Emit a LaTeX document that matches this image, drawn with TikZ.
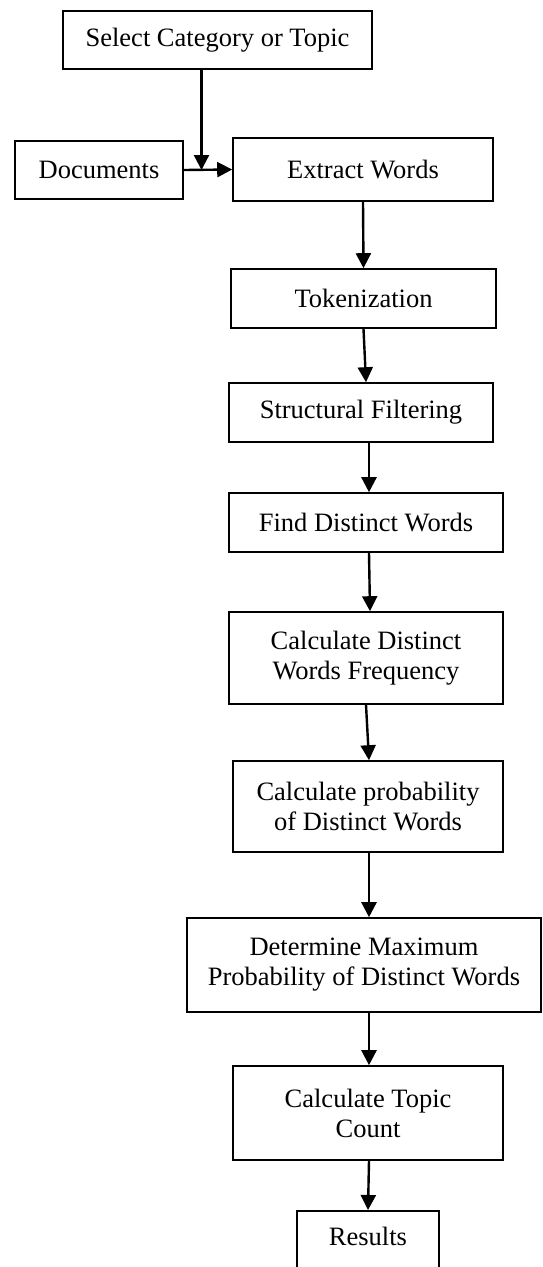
\documentclass[tikz,border=0pt]{standalone}
\usepackage{fontspec}
\setmainfont{Liberation Serif}
\usetikzlibrary{arrows.meta}
\begin{document}
\begin{tikzpicture}[x=1pt,y=-1pt,
  box/.style={draw, line width=1.6pt, inner sep=0pt, align=center,
    font=\fontsize{26.5}{30}\selectfont},
  arr/.style={line width=2.4pt, -{Triangle[length=15pt,width=15pt]}}]
\useasboundingbox (0,0) rectangle (543,1267);
\clip (0,0) rectangle (543,1267);
\node[box, minimum width=309pt, minimum height=58pt] (sel) at (217.5,40) {Select Category or Topic};
\node[box, minimum width=168pt, minimum height=58pt] (doc) at (99,170) {Documents};
\node[box, minimum width=260pt, minimum height=63pt] (ext) at (363,169.5) {Extract Words};
\node[box, minimum width=265pt, minimum height=59pt] (tok) at (363.5,298.5) {Tokenization};
\node[box, minimum width=264pt, minimum height=59pt] (str) at (361,412.5) {Structural Filtering};
\node[box, minimum width=274pt, minimum height=59pt] (fnd) at (366,522.5) {Find Distinct Words};
\node[box, minimum width=274pt, minimum height=92pt] (frq) at (366,658) {Calculate Distinct\\Words Frequency};
\node[box, minimum width=270pt, minimum height=91pt] (prb) at (368,806.5) {Calculate probability\\of Distinct Words};
\node[box, minimum width=354pt, minimum height=94pt] (det) at (364,965) {Determine Maximum\\Probability of Distinct Words};
\node[box, minimum width=270pt, minimum height=94pt] (top) at (368,1113) {Calculate Topic\\Count};
\node[box, minimum width=142pt, inner ysep=0pt, text height=35pt, text depth=60pt, anchor=north] (res) at (368,1210) {Results};
\coordinate (j) at ([xshift=-16pt]sel.south |- doc.east);
\draw[arr] ([xshift=-16pt]sel.south) -- (j);
\draw[arr] (doc.east) -- (ext.west);
\draw[arr] (ext.south) -- (tok.north);
\draw[arr] (tok.south) -- ([xshift=5pt]str.north);
\draw[arr] ([xshift=8pt]str.south) -- ([xshift=3pt]fnd.north);
\draw[arr] ([xshift=3pt]fnd.south) -- ([xshift=4pt]frq.north);
\draw[arr] (frq.south) -- ([xshift=1pt]prb.north);
\draw[arr] ([xshift=1pt]prb.south) -- ([xshift=5pt]det.north);
\draw[arr] ([xshift=5pt]det.south) -- ([xshift=1pt]top.north);
\draw[arr] ([xshift=1pt]top.south) -- (res.north);
\end{tikzpicture}
\end{document}
